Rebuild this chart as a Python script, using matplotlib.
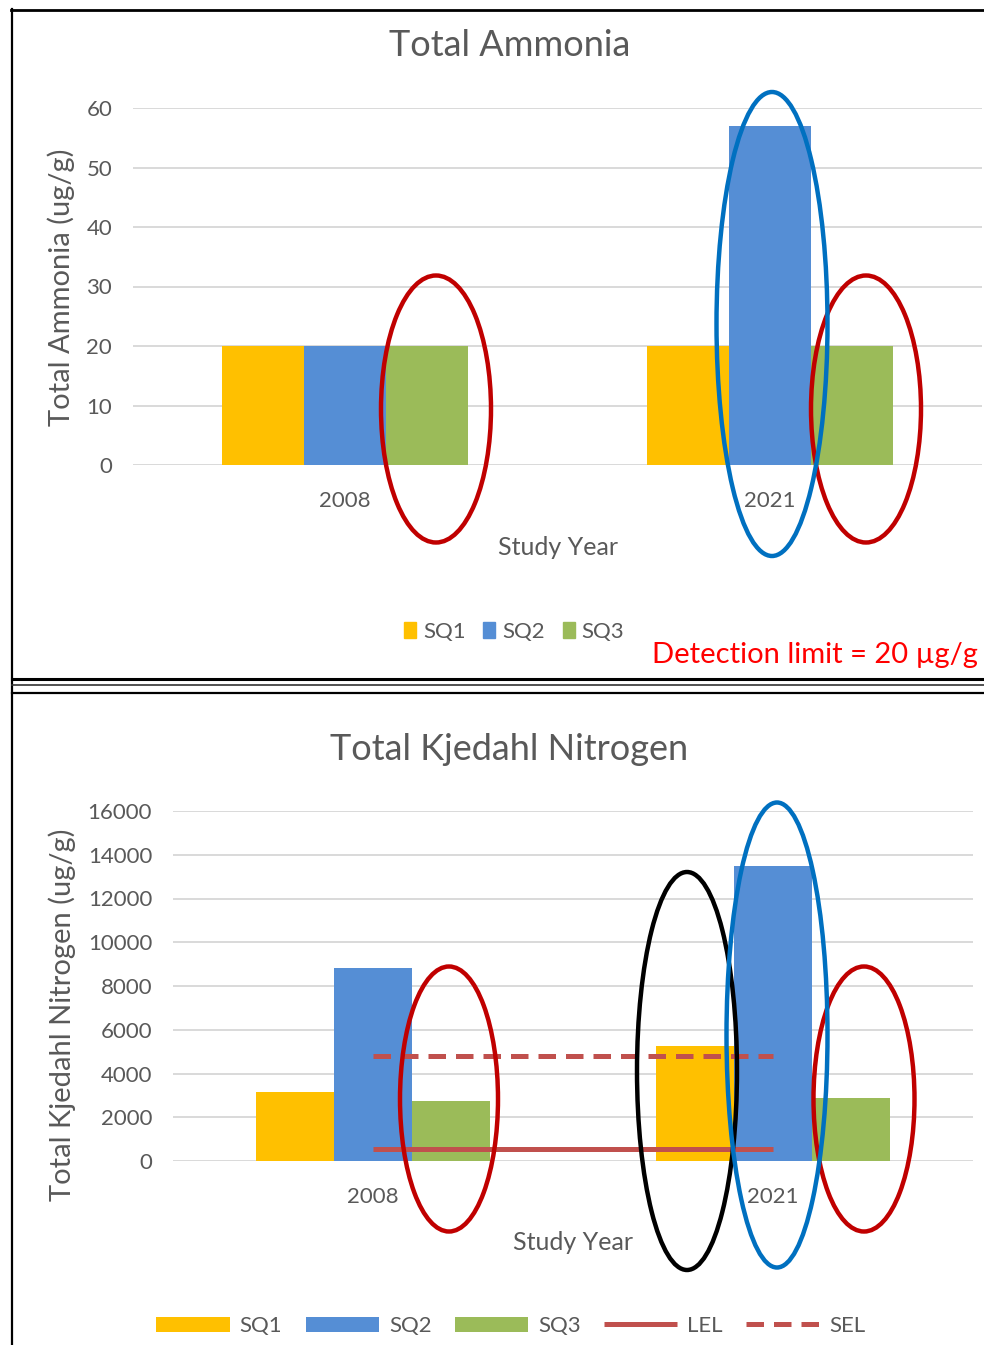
import matplotlib.pyplot as plt
from matplotlib.patches import Ellipse, Patch

plt.rcParams['font.family'] = ['Lato', 'DejaVu Sans']

# data
years = ['2008', '2021']
series = ['SQ1', 'SQ2', 'SQ3']
ammonia_sq1 = [20, 20]
ammonia_sq2 = [20, 57]
ammonia_sq3 = [20, 20]
tkn_sq1 = [3150, 5260]
tkn_sq2 = [8820, 13490]
tkn_sq3 = [2740, 2880]
tkn_lel = [550, 550]
tkn_sel = [4800, 4800]
ammonia_ticks = [0, 10, 20, 30, 40, 50, 60]
tkn_ticks = list(range(0, 16001, 2000))

colors = ['#FFC000', '#558ED5', '#9BBB59']
line_red = '#C0504D'
gray = '#595959'
grid = '#D9D9D9'

W, H = 984, 1345
fig = plt.figure(figsize=(W / 100, H / 100), dpi=100)


def px_axes(l, t, r, b, **kw):
    return fig.add_axes([l / W, 1 - b / H, (r - l) / W, (b - t) / H], **kw)


def style(ax, ticks):
    for s in ax.spines.values():
        s.set_visible(False)
    ax.set_yticks(ticks)
    ax.yaxis.grid(True, color=grid, lw=1.4)
    ax.set_axisbelow(True)
    ax.tick_params(length=0, labelsize=16, labelcolor=gray)
    ax.tick_params(axis='y', pad=15)
    ax.tick_params(axis='x', pad=19)
    ax.set_xlim(-0.5, 1.5)
    ax.set_xticks(range(len(years)))
    ax.set_xticklabels(years)


def bars(ax, groups, width):
    offs = [-width, 0, width]
    for vals, off, c, name in zip(groups, offs, colors, series):
        ax.bar([i + off for i in range(len(years))], vals, width=width,
               color=c, label=name, zorder=2)


# Total Ammonia
ax1 = px_axes(133, 108, 982, 465)
style(ax1, ammonia_ticks)
ax1.set_ylim(0, 60)
bars(ax1, [ammonia_sq1, ammonia_sq2, ammonia_sq3], 0.193)
fig.text(510 / W, 1 - 45 / H, 'Total Ammonia', ha='center', va='center',
         fontsize=26, color=gray)
fig.text(61 / W, 1 - 287 / H, 'Total Ammonia (ug/g)', rotation=90,
         ha='center', va='center', fontsize=21, color=gray)
fig.text(558 / W, 1 - 548 / H, 'Study Year', ha='center', va='center',
         fontsize=18, color=gray)
h1 = [Patch(color=c, label=n) for c, n in zip(colors, series)]
fig.legend(handles=h1, loc='center', bbox_to_anchor=(514 / W, 1 - 632 / H),
           ncol=3, frameon=False, fontsize=16, handlelength=0.55,
           handleheight=0.75, handletextpad=0.3, columnspacing=0.8,
           labelcolor=gray)
fig.text(978 / W, 1 - 655 / H, 'Detection limit = 20 µg/g', ha='right',
         va='center', fontsize=21, color='#FF0000')

# Total Kjedahl Nitrogen
ax2 = px_axes(173, 811, 973, 1161)
style(ax2, tkn_ticks)
ax2.set_ylim(0, 16000)
bars(ax2, [tkn_sq1, tkn_sq2, tkn_sq3], 0.195)
ax2.plot(range(len(years)), tkn_lel, color=line_red, lw=3.6,
         solid_capstyle='butt', zorder=3, label='LEL')
ax2.plot(range(len(years)), tkn_sel, color=line_red, lw=3.6,
         ls=(0, (3.5, 2.0)), zorder=3, label='SEL')
fig.text(509 / W, 1 - 750 / H, 'Total Kjedahl Nitrogen', ha='center',
         va='center', fontsize=26, color=gray)
fig.text(62 / W, 1 - 1015 / H, 'Total Kjedahl Nitrogen (ug/g)', rotation=90,
         ha='center', va='center', fontsize=21, color=gray)
fig.text(573 / W, 1 - 1243 / H, 'Study Year', ha='center', va='center',
         fontsize=18, color=gray)
h2, l2 = ax2.get_legend_handles_labels()
order = [2, 3, 4, 0, 1]
fig.legend([h2[i] for i in order], [l2[i] for i in order], loc='center',
           bbox_to_anchor=(511 / W, 1 - 1326 / H), ncol=5, frameon=False,
           fontsize=16, handlelength=3.3, handleheight=0.65,
           handletextpad=0.45, columnspacing=1.05, labelcolor=gray)

# overlay for panel frames and highlight rings
ov = fig.add_axes([0, 0, 1, 1], zorder=10)
ov.set_xlim(0, W)
ov.set_ylim(H, 0)
ov.axis('off')
ov.patch.set_alpha(0)
ov.plot([11, W], [9.5, 9.5], color='black', lw=2)
ov.plot([12, 12], [9, H], color='black', lw=1.6)
ov.plot([12, W], [679, 679], color='black', lw=2.2)
ov.plot([12, W], [685, 685], color='#333333', lw=1.2)
ov.plot([12, W], [692.5, 692.5], color='black', lw=1.6)

rings = [
    (436, 409, 110, 267, '#C00000'),
    (866, 409, 110, 267, '#C00000'),
    (772, 324, 111, 464, '#0070C0'),
    (449, 1099, 98, 265, '#C00000'),
    (864, 1099, 101, 265, '#C00000'),
    (687, 1071, 100, 398, 'black'),
    (777, 1035, 101, 465, '#0070C0'),
]
for cx, cy, w, h, c in rings:
    ov.add_patch(Ellipse((cx, cy), w, h, fill=False, ec=c, lw=3.2))

fig.savefig('out.png', dpi=100)
